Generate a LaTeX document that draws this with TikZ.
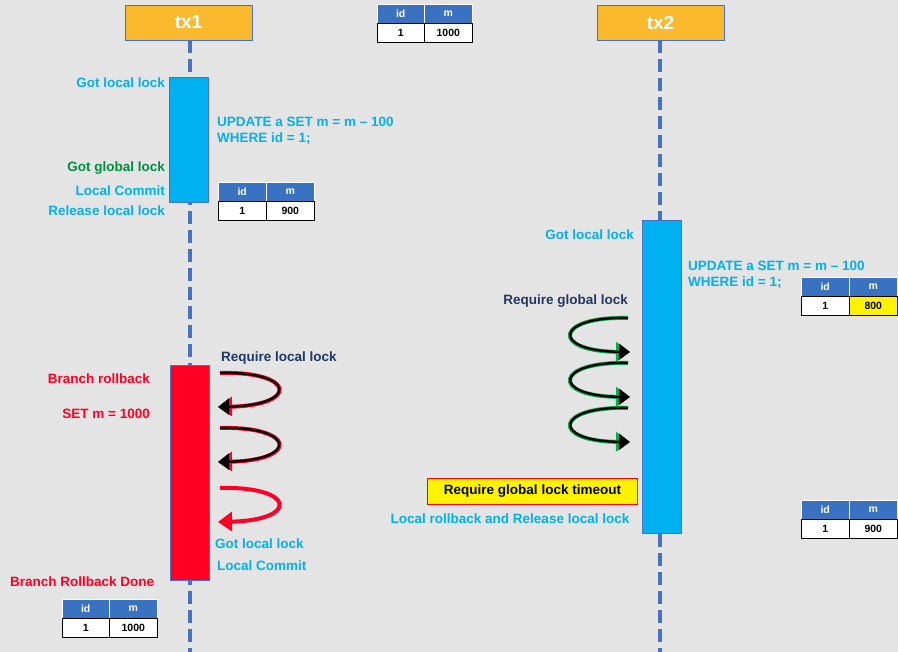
\documentclass[tikz,border=0pt]{standalone}
\usepackage{fontspec}
\setmainfont{Liberation Sans}
\usetikzlibrary{arrows.meta}
\definecolor{bg}{HTML}{E4E4E4}
\definecolor{org}{HTML}{FBBA2E}
\definecolor{cy}{HTML}{00B0F0}
\definecolor{hb}{HTML}{3A72C2}
\definecolor{nv}{HTML}{1F3864}
\definecolor{rd}{HTML}{FF0022}
\definecolor{gr}{HTML}{00B050}
\definecolor{ln}{HTML}{4472C4}
\newcommand\mytab[6]{% name, x, y, splitx, rightx, unused
  \node[hdr,minimum width={(#4-#2)*1pt},anchor=north west] (#1h1) at (#2,#3) {id};
  \node[hdr,minimum width={(#5-#4)*1pt},anchor=north west] (#1h2) at (#4,#3) {m};
  \node[cell,minimum width={(#4-#2)*1pt},anchor=north west] (#1c1) at (#2,#3+19) {1};
}
\begin{document}
\begin{tikzpicture}[x=1pt,y=-1pt,
  every node/.style={font=\bfseries\fontsize{13.5}{16}\selectfont,inner sep=0pt},
  hdr/.style={fill=hb,text=white,draw=white,line width=0.4pt,minimum height=19pt,font=\bfseries\fontsize{10.5}{12}\selectfont},
  cell/.style={fill=white,draw=black,line width=0.6pt,minimum height=19pt,font=\bfseries\fontsize{10.5}{12}\selectfont},
  head/.style={fill=org,draw=ln,line width=0.5pt,minimum width=127pt,minimum height=35pt,text=white,font=\bfseries\fontsize{19}{21}\selectfont},
  life/.style={ln,line width=4.5pt,dash pattern=on 13pt off 6pt},
  act/.style={draw=ln,line width=0.6pt,minimum width=39pt,anchor=north west},
  gar/.style={line width=4pt,gr,-{Triangle[length=14pt,width=19pt]}},
  bar/.style={line width=2.4pt,black,-{Triangle[length=11pt,width=16pt]}},
  rar/.style={line width=4pt,rd,-{Triangle[length=14pt,width=19pt]}},
]
\fill[bg] (0,0) rectangle (898,652);
\useasboundingbox (0,0) rectangle (898,652);
\node[head] (tx1) at (188.5,22.5) {tx1};
\node[head] (tx2) at (660.5,22.5) {tx2};
\coordinate (e1) at (190,652);
\coordinate (e2) at (660,652);
\draw[life] (tx1.south -| e1) -- (e1);
\draw[life] (tx2.south -| e2) -- (e2);
% top table
\mytab{t0}{377}{4}{424}{472}{}
\node[cell,minimum width=48pt,anchor=north west] (t0c2) at (424,23) {1000};
% tx1 activation
\node[act,fill=cy,minimum height=125pt] (a1) at (169,77) {};
\node[text=cy,anchor=east] (g1) at (165,83) {Got local lock};
\node[text=cy,anchor=west,align=left] (u1) at (217,131) {UPDATE a SET m = m -- 100\\WHERE id = 1;};
\node[text=gr!80!black,anchor=east] (gg1) at (165,168) {Got global lock};
\node[text=cy,anchor=east] (lc1) at (165,191) {Local Commit};
\node[text=cy,anchor=east] (rl1) at (165,211) {Release local lock};
\mytab{t1}{218}{182}{266}{314}{}
\node[cell,minimum width=48pt,anchor=north west] (t1c2) at (266,201) {900};
% tx2 activation
\node[act,fill=cy,minimum height=313pt] (a2) at (642,220) {};
\node[text=cy,anchor=east] (g2) at (634,235) {Got local lock};
\node[text=cy,anchor=west,align=left] (u2) at (688,275) {UPDATE a SET m = m -- 100\\WHERE id = 1;};
\mytab{t2}{801}{277}{849}{897}{}
\node[cell,fill=yellow,minimum width=48pt,anchor=north west] (t2c2) at (849,296) {800};
\node[text=nv,anchor=east] (rg) at (628,301) {Require global lock};
\foreach \i/\y in {1/318,2/363,3/408}{
  \coordinate (gs\i) at (628,\y);
  \coordinate (ge\i) at (630,\y+34);
  \draw[gar] (gs\i) .. controls (555,\y-2) and (550,\y+33) .. (ge\i);
  \draw[bar] (gs\i) .. controls (555,\y-2) and (550,\y+33) .. (ge\i);
}
\node[fill=yellow,draw=red,line width=1pt,minimum width=210pt,minimum height=26pt,anchor=north west] (to) at (427,478) {};
\node[text=black] (tol) at (to.center) {Require global lock timeout};
\node[text=cy] (lr) at (510,519) {Local rollback and Release local lock};
\mytab{t3}{801}{500}{849}{897}{}
\node[cell,minimum width=48pt,anchor=north west] (t3c2) at (849,519) {900};
% tx1 rollback
\node[act,fill=rd,minimum height=215pt] (a3) at (170,365) {};
\node[text=nv,anchor=west] (rl) at (221,358) {Require local lock};
\node[text=rd,anchor=east] (br) at (150,379) {Branch rollback};
\node[text=rd,anchor=east] (sm) at (150,414) {SET m = 1000};
\foreach \i/\y in {1/373,2/428}{
  \coordinate (rs\i) at (220,\y);
  \coordinate (re\i) at (218,\y+34);
  \draw[rar] (rs\i) .. controls (295,\y-2) and (300,\y+32) .. (re\i);
  \draw[bar] (rs\i) .. controls (295,\y-2) and (300,\y+32) .. (re\i);
}
\coordinate (rs3) at (220,488);
\coordinate (re3) at (218,522);
\draw[rar] (rs3) .. controls (295,486) and (300,520) .. (re3);
\node[text=cy,anchor=west] (gl3) at (215,544) {Got local lock};
\node[text=cy,anchor=west] (lc3) at (217,566) {Local Commit};
\node[text=rd,anchor=west] (brd) at (10,582) {Branch Rollback Done};
\mytab{t4}{62}{599}{109}{157}{}
\node[cell,minimum width=48pt,anchor=north west] (t4c2) at (109,618) {1000};
\end{tikzpicture}
\end{document}
